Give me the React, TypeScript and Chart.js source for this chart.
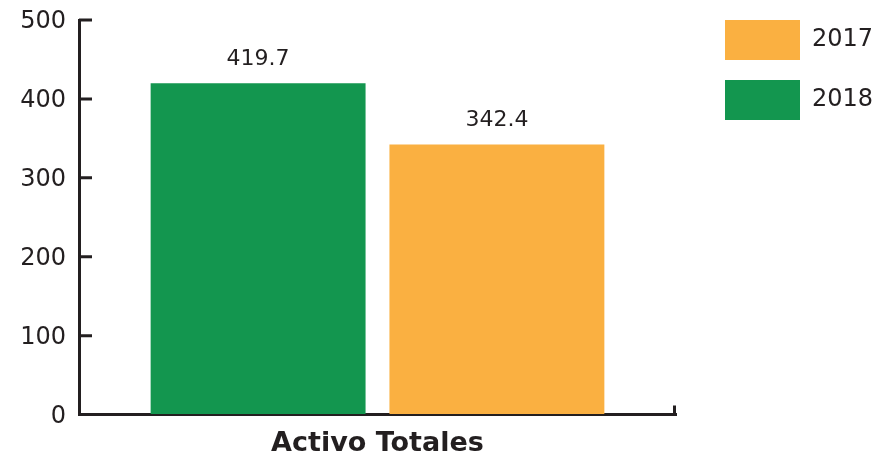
import React, { useEffect, useRef } from "react";
import { Chart, registerables } from "chart.js";

Chart.register(...registerables);

const categories = ["Activo Totales"];
const seriesNames = ["2018", "2017"];
const values2018 = [419.7];
const values2017 = [342.4];
const valueLabels2018 = ["419.7"];
const valueLabels2017 = ["342.4"];
const yTicks = [0, 100, 200, 300, 400, 500];

const GREEN = "#13964F";
const ORANGE = "#FAB041";
const INK = "#231F20";
const FONT = "'DejaVu Sans', sans-serif";
const LEGEND_W = 172;

export default function App() {
  const ref = useRef<HTMLCanvasElement | null>(null);

  useEffect(() => {
    if (!ref.current) return;
    const labelsBySet = [valueLabels2018, valueLabels2017];

    const decor = {
      id: "decor",
      beforeLayout(chart: any) {
        const lg = chart.legend;
        if (lg && !lg.__patched) {
          const orig = lg.fit.bind(lg);
          lg.fit = function () {
            orig();
            this.width = LEGEND_W;
          };
          lg.__patched = true;
        }
      },
      afterDraw(chart: any) {
        const ctx = chart.ctx;
        const area = chart.chartArea;
        const y = chart.scales.y;
        ctx.save();
        ctx.strokeStyle = INK;
        ctx.lineWidth = 3;
        ctx.beginPath();
        yTicks.forEach((v) => {
          const py = y.getPixelForValue(v);
          ctx.moveTo(area.left, py);
          ctx.lineTo(area.left + 13, py);
        });
        ctx.moveTo(area.right - 1.5, area.bottom);
        ctx.lineTo(area.right - 1.5, area.bottom - 9);
        ctx.stroke();

        ctx.fillStyle = INK;
        ctx.font = `22px ${FONT}`;
        ctx.textAlign = "center";
        ctx.textBaseline = "middle";
        chart.data.datasets.forEach((ds: any, i: number) => {
          const meta = chart.getDatasetMeta(i);
          meta.data.forEach((bar: any, j: number) => {
            ctx.fillText(labelsBySet[i][j], bar.x, bar.y - 24);
          });
        });
        ctx.restore();
      },
    };

    const chart = new Chart(ref.current, {
      type: "bar",
      data: {
        labels: categories,
        datasets: [
          {
            label: seriesNames[0],
            data: values2018,
            backgroundColor: GREEN,
            borderWidth: 0,
            yAxisID: "y",
          },
          {
            label: seriesNames[1],
            data: values2017,
            backgroundColor: ORANGE,
            borderWidth: 0,
            yAxisID: "y",
          },
        ],
      },
      options: {
        responsive: false,
        animation: false,
        layout: { padding: { top: 0, right: 0, bottom: 0, left: 0 } },
        scales: {
          x: {
            grid: { display: true, drawOnChartArea: false, drawTicks: false },
            border: { display: true, color: INK, width: 3 },
            ticks: { display: false },
            title: {
              display: true,
              text: categories[0],
              color: INK,
              font: { family: FONT, size: 27, weight: "bold" },
              padding: { top: 13, bottom: 0 },
            },
          },
          y: {
            min: 0,
            max: 500,
            afterBuildTicks: (s: any) => {
              s.ticks = yTicks.map((v) => ({ value: v }));
            },
            afterFit: (s: any) => {
              s.width = 79;
            },
            grid: { display: true, drawOnChartArea: false, drawTicks: false },
            border: { display: true, color: INK, width: 3 },
            ticks: {
              color: INK,
              padding: 13,
              labelOffset: 2,
              font: { family: FONT, size: 24, lineHeight: "14px" },
            },
          },
          y2: {
            position: "right",
            display: true,
            min: 0,
            max: 500,
            grid: { display: false, drawTicks: false },
            border: { display: false },
            ticks: { display: false },
            afterFit: (s: any) => {
              s.width = 29;
            },
          },
        },
        plugins: {
          legend: {
            position: "right",
            align: "start",
            reverse: true,
            labels: {
              boxWidth: 75,
              boxHeight: 40,
              padding: 20,
              color: INK,
              font: { family: FONT, size: 24 },
            },
          },
          tooltip: { enabled: false },
        },
      } as any,
      plugins: [decor],
    });
    return () => chart.destroy();
  }, []);

  return (
    <div style={{ position: "fixed", left: 0, top: 0, width: 877, height: 460, background: "#fff" }}>
      <canvas ref={ref} width={877} height={460} style={{ display: "block" }} />
    </div>
  );
}
